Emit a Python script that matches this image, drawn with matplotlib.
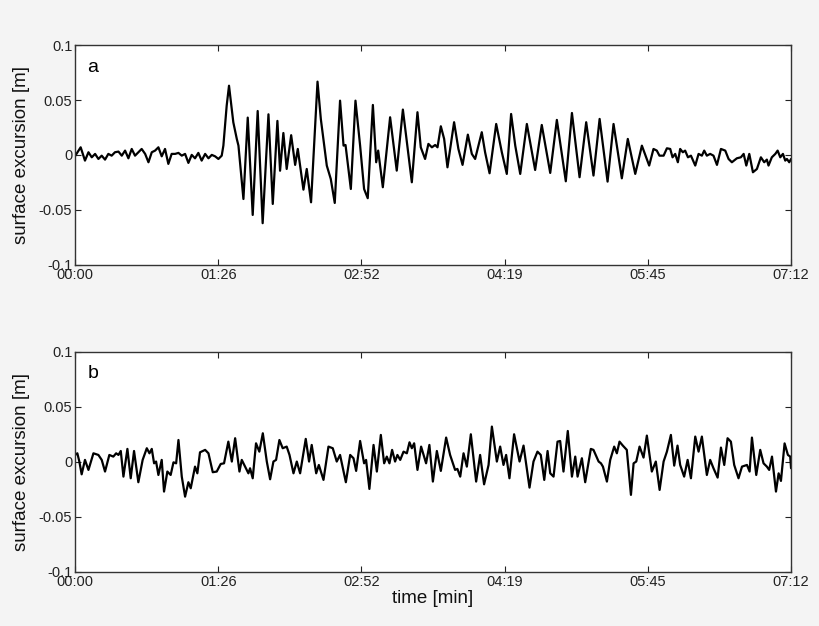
import numpy as np
import matplotlib
matplotlib.use("Agg")
import matplotlib.pyplot as plt

# =====================================================
# DATA (time in s, surface excursion in mm)
# =====================================================

t_a = [0.0, 3.4, 6.0, 8.1, 10.1, 12.1, 14.1, 16.1, 18.1, 20.1, 22.1, 24.1, 26.2,
       28.2, 30.2, 32.2, 34.2, 36.2, 38.2, 40.2, 42.3, 44.3, 46.3, 48.3, 50.3,
       52.3, 54.3, 56.3, 58.3, 60.4, 62.4, 64.4, 66.4, 68.4, 70.4, 72.4, 74.4,
       76.4, 78.5, 80.5, 82.5, 84.5, 86.5, 88.5, 89.5, 91.5, 92.9, 95.5, 97.6,
       98.6, 101.6, 104.2, 107.2, 110.2, 113.2, 116.7, 119.3, 122.1, 123.7,
       125.7, 127.7, 130.4, 132.8, 134.4, 137.8, 139.8, 142.4, 146.3, 148.3,
       151.9, 154.3, 156.7, 159.9, 162.0, 163.2, 166.4, 169.2, 172.0, 174.4,
       176.6, 179.7, 181.7, 182.9, 185.7, 190.1, 194.1, 197.8, 203.2, 206.6,
       208.6, 211.2, 213.2, 215.3, 217.3, 218.7, 220.7, 222.7, 224.7, 228.7,
       231.3, 233.8, 237.0, 239.4, 241.4, 245.4, 247.4, 250.1, 254.1, 257.5,
       260.5, 263.1, 265.6, 268.6, 272.6, 277.6, 281.6, 286.7, 290.7, 296.1,
       299.8, 304.4, 308.4, 312.8, 316.5, 321.3, 324.9, 329.9, 333.5, 338.0,
       342.0, 346.4, 349.0, 351.0, 352.6, 355.1, 357.1, 359.1, 360.5, 362.1,
       363.7, 365.1, 366.7, 368.1, 369.8, 371.6, 374.2, 376.2, 378.2, 379.6,
       381.2, 383.2, 385.2, 387.3, 389.7, 392.3, 394.3, 396.3, 399.3, 401.7,
       403.4, 405.0, 406.8, 409.0, 411.4, 413.8, 415.8, 417.4, 418.4, 420.4,
       422.5, 423.9, 425.5, 427.1, 428.5, 429.5, 430.9, 432.0]
v_a_mm = [-1.0, 7.0, -5.1, 2.5, -2.1, 1.0, -3.6, -0.6, -4.2, 1.0, -0.6, 2.5, 3.1,
          -0.6, 4.0, -3.0, 5.5, -0.6, 2.5, 5.5, 1.0, -6.6, 2.5, 4.0, 7.0,
          -1.2, 5.5, -8.1, 1.0, 1.0, 1.9, -0.6, 1.0, -7.2, 0.1, -3.0, 1.9,
          -5.1, 1.0, -3.0, 0.1, -1.2, -3.6, -0.6, 8.5, 44.9, 63.0, 29.7, 14.6,
          8.5, -40.0, 34.0, -54.5, 40.0, -62.0, 37.0, -44.5, 31.0, -14.3,
          20.0, -12.7, 18.0, -9.0, 5.5, -31.5, -12.7, -43.0, 66.7, 32.7,
          -9.7, -21.8, -43.6, 49.4, 8.5, 9.1, -30.9, 49.4, 8.5, -30.9,
          -39.3, 45.5, -6.6, 4.0, -29.3, 34.3, -14.2, 41.3, -24.8, 38.9,
          7.0, -3.6, 10.1, 7.0, 9.1, 7.0, 26.1, 14.6, -11.2, 29.8,
          5.5, -9.0, 18.5, 1.0, -3.6, 20.7, 2.5, -16.6, 28.2, 2.5,
          -17.2, 37.3, 8.5, -17.2, 28.2, -13.6, 27.3, -16.3, 31.9, -23.9,
          38.2, -20.2, 29.8, -18.7, 32.8, -24.2, 28.2, -21.2, 14.6, -17.2,
          8.5, -9.6, 5.5, 4.0, -0.6, -0.6, 6.1, 5.5, -2.1, 1.0,
          -6.6, 5.5, 2.5, 4.0, -2.1, -0.6, -9.6, 1.0, -0.6, 4.0,
          -0.6, 1.0, -0.6, -9.0, 5.5, 4.0, -3.6, -6.6, -3.0, -2.1,
          1.0, -9.6, 1.0, -15.7, -12.7, -2.1, -6.6, -4.2, -9.6, -2.1,
          1.0, 4.0, -2.1, 1.0, -5.1, -3.6, -6.6, -3.6]

t_b = [0.0, 1.4, 2.6, 4.0, 6.0, 8.1, 11.1, 14.1, 16.1, 18.1, 20.7, 23.1, 24.8,
       26.2, 27.6, 29.2, 31.6, 33.6, 35.6, 38.2, 40.8, 43.3, 44.9, 46.3, 47.7,
       48.9, 50.3, 52.3, 53.7, 55.7, 57.7, 59.4, 61.0, 62.4, 64.4, 66.4, 68.4,
       69.8, 72.4, 73.8, 75.4, 78.5, 80.5, 83.1, 85.5, 87.9, 89.9, 92.5, 94.6,
       96.6, 99.2, 100.6, 102.6, 104.6, 105.6, 107.2, 109.2, 111.2, 113.3,
       115.7, 117.7, 119.7, 121.3, 123.3, 125.3, 127.7, 129.4, 131.8, 133.8,
       135.8, 139.2, 141.2, 142.8, 145.5, 147.1, 149.9, 152.9, 155.5, 157.9,
       159.9, 163.4, 166.0, 168.0, 169.6, 172.0, 174.4, 175.6, 177.6, 180.1,
       182.1, 184.5, 186.5, 188.1, 189.7, 191.3, 193.1, 194.5, 196.2, 198.2,
       200.2, 201.8, 203.2, 204.6, 206.6, 208.8, 211.8, 213.8, 215.9, 218.3,
       220.7, 223.9, 226.3, 229.3, 230.7, 232.4, 234.4, 236.4, 238.8, 242.0,
       244.4, 246.8, 249.5, 251.5, 254.5, 256.5, 258.5, 260.1, 262.1, 264.9,
       268.2, 270.6, 274.2, 276.6, 279.0, 281.0, 283.1, 285.1, 286.7, 288.7,
       291.1, 292.7, 294.7, 297.3, 299.8, 301.8, 303.2, 305.8, 307.8, 311.2,
       312.8, 315.9, 317.3, 318.5, 320.9, 322.9, 325.3, 326.9, 328.5, 330.5,
       332.9, 335.4, 337.0, 338.6, 340.6, 343.0, 345.0, 348.0, 350.4, 352.7,
       355.1, 357.1, 359.5, 361.5, 363.5, 365.1, 367.5, 369.6, 371.6, 374.2,
       376.2, 378.2, 381.2, 383.2, 385.2, 387.7, 389.7, 391.7, 393.7, 395.7,
       397.7, 400.3, 402.4, 405.4, 407.0, 408.4, 411.0, 413.4, 415.4, 417.4,
       418.8, 420.5, 422.9, 424.5, 425.9, 428.1, 430.1, 431.5, 432.0]
v_b_mm = [6.4, 7.9, 0.4, -11.2, 1.9, -7.2, 7.9, 6.4, 1.9, -8.7, 6.4, 4.9, 7.9,
          6.4, 10.0, -13.3, 11.9, -14.8, 10.0, -18.4, 1.9, 12.5, 7.9, 11.9, -1.2,
          0.4, -11.8, 1.9, -26.9, -8.7, -11.8, -0.3, -1.2, 20.0, -13.3, -31.5, -18.4,
          -23.9, -4.2, -10.3, 8.8, 11.0, 7.9, -9.3, -8.7, -1.8, -1.2, 18.5, 0.4,
          21.6, -8.7, 1.9, -4.2, -10.3, -5.7, -14.8, 17.0, 9.4, 26.1,
          0.4, -15.7, 0.4, 1.9, 20.0, 12.5, 14.0, 6.4, -10.3, 0.4,
          -10.3, 21.0, 0.4, 15.5, -10.3, -2.7, -16.3, 14.0, 12.5, 0.4,
          6.4, -18.4, 6.4, 3.4, -8.1, 19.1, -1.2, 1.9, -24.5, 15.5,
          -8.7, 24.6, -1.2, 4.9, -1.2, 11.0, 0.4, 6.4, 1.9, 9.4,
          7.9, 17.9, 12.5, 17.0, -7.2, 14.0, -1.2, 15.5, -17.8, 10.0,
          -8.1, 22.2, 6.4, -7.2, -6.3, -13.3, 7.9, -4.2, 25.2, -17.8,
          6.4, -20.3, -2.7, 32.2, 0.4, 14.0, -2.7, 6.4, -14.8, 25.2,
          0.4, 14.9, -23.3, 0.4, 9.4, 6.4, -16.3, 10.0, -10.3, -13.3,
          18.5, 19.1, -8.7, 28.2, -13.3, 4.9, -13.3, 3.4, -18.4, 11.9,
          11.0, 0.4, -1.2, -4.2, -17.8, 1.9, 14.0, 7.9, 18.5, 14.9,
          11.0, -29.9, -1.2, 0.4, 14.0, 4.0, 24.0, -8.7, 0.4, -25.4,
          0.4, 9.4, 24.6, -3.3, 14.9, -2.7, -13.3, 1.9, -14.8, 23.1,
          9.4, 23.1, -11.8, 1.9, -5.7, -14.2, 13.1, -2.7, 21.6, 18.5,
          -2.7, -14.8, -4.2, -2.7, -8.7, 22.2, -11.8, 11.0, -1.2, -4.2,
          -7.2, 4.9, -26.9, -10.3, -17.2, 16.9, 6.4, 4.9, -5.7]

x_ticks = [0, 86.4, 172.8, 259.2, 345.6, 432]
x_labels = ["00:00", "01:26", "02:52", "04:19", "05:45", "07:12"]
y_ticks = [-0.1, -0.05, 0, 0.05, 0.1]
y_labels = ["-0.1", "-0.05", "0", "0.05", "0.1"]

v_a = np.array(v_a_mm) / 1000
v_b = np.array(v_b_mm) / 1000

# =====================================================
# FIGURE
# =====================================================

plt.rcParams["font.family"] = ["Liberation Sans", "DejaVu Sans"]

fig = plt.figure(figsize=(8.2, 6.26), dpi=100)
fig.patch.set_facecolor("#f4f4f4")

ax_a = fig.add_axes([0.0915, 0.5767, 0.8732, 0.3514])
ax_b = fig.add_axes([0.0915, 0.0863, 0.8732, 0.3514])

for ax, t, v, letter in [(ax_a, t_a, v_a, "a"), (ax_b, t_b, v_b, "b")]:
    ax.set_facecolor("white")
    ax.plot(t, v, color="black", linewidth=1.6,
            solid_joinstyle="round", solid_capstyle="round")
    ax.set_xlim(0, 432)
    ax.set_ylim(-0.1, 0.1)
    ax.set_xticks(x_ticks)
    ax.set_xticklabels(x_labels)
    ax.set_yticks(y_ticks)
    ax.set_yticklabels(y_labels)
    ax.tick_params(direction="in", top=True, right=True, length=4,
                   labelsize=10.5, colors="#222222", pad=2)
    for s in ax.spines.values():
        s.set_color("#333333")
        s.set_linewidth(1.0)
    ax.set_ylabel("surface excursion [m]", fontsize=13.5, labelpad=6,
                  color="#111111")
    ax.text(0.017, 0.9, letter, transform=ax.transAxes, fontsize=14,
            ha="left", va="center")

ax_b.set_xlabel("time [min]", fontsize=13.5, labelpad=1, color="#111111")

fig.savefig("out.png", dpi=100, facecolor=fig.get_facecolor())
